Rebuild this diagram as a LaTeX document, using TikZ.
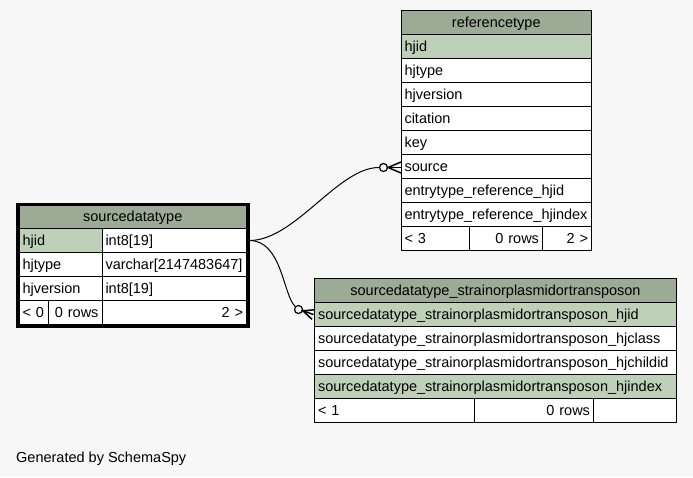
\documentclass[tikz,border=0pt]{standalone}
\usepackage{fontspec}
\setmainfont{Liberation Sans}
\usepackage{tikz}
\usetikzlibrary{fit}
\definecolor{pagebg}{HTML}{F7F7F7}
\definecolor{headbg}{HTML}{9BAB96}
\definecolor{keybg}{HTML}{BED1B8}
\hyphenpenalty=10000
\exhyphenpenalty=10000

\begin{document}
\begin{tikzpicture}[x=1pt,y=-1pt,
    cell/.style={draw, fill=white, line width=1pt, anchor=north west, outer sep=0pt,
      inner xsep=3.5pt, inner ysep=0pt, minimum height=24pt,
      text height=11.5pt, text depth=2.5pt, text width=#1, align=left,
      font=\fontsize{14.5}{17}\selectfont},
    head/.style={cell=#1, fill=headbg, align=center},
    key/.style={cell=#1, fill=keybg},
    count/.style={cell=#1, align=right},
    link/.style={line width=1pt},
    foot/.style={line width=1.5pt},
    ring/.style={circle, draw, fill=pagebg, line width=1.2pt, inner sep=0pt, minimum size=8pt}]
    \path[use as bounding box, fill=pagebg] (0,0) rectangle (693,477);

    % referencetype
    \node[head=183.5pt] (ref-title) at (401,10.5) {referencetype};
    \node[key=183.5pt] (ref-hjid) at (401,34.5) {hjid};
    \node[cell=183.5pt] (ref-hjtype) at (401,58.5) {hjtype};
    \node[cell=183.5pt] (ref-hjversion) at (401,82.5) {hjversion};
    \node[cell=183.5pt] (ref-citation) at (401,106.5) {citation};
    \node[cell=183.5pt] (ref-key) at (401,130.5) {key};
    \node[cell=183.5pt] (ref-source) at (401,154.5) {source};
    \node[cell=183.5pt] (ref-entryid) at (401,178.5) {entrytype\_reference\_hjid};
    \node[cell=183.5pt] (ref-entryindex) at (401,202.5) {entrytype\_reference\_hjindex};
    \node[cell=61.5pt] (ref-parents) at (401,226.5) {< 3};
    \node[count=66pt] (ref-rows) at (469.5,226.5) {0 rows};
    \node[count=42pt] (ref-children) at (542.5,226.5) {2 >};

    % sourcedatatype
    \node[head=220.5pt, minimum height=23pt] (sdt-title) at (19,205.5) {sourcedatatype};
    \node[key=76pt] (sdt-hjid) at (19,228.5) {hjid};
    \node[cell=137.5pt] (sdt-hjid-type) at (102,228.5) {int8[19]};
    \node[cell=76pt] (sdt-hjtype) at (19,252.5) {hjtype};
    \node[cell=137.5pt] (sdt-hjtype-type) at (102,252.5) {varchar[2147483647]};
    \node[cell=76pt] (sdt-hjversion) at (19,276.5) {hjversion};
    \node[cell=137.5pt] (sdt-hjversion-type) at (102,276.5) {int8[19]};
    \node[cell=22pt] (sdt-parents) at (19,300.5) {< 0};
    \node[count=47pt] (sdt-rows) at (48,300.5) {0 rows};
    \node[count=137.5pt] (sdt-children) at (102,300.5) {2 >};
    \node[draw, line width=3pt, inner sep=1.5pt, fit=(sdt-title)(sdt-children)] (sdt-frame) {};

    % sourcedatatype_strainorplasmidortransposon
    \node[head=355pt] (st-title) at (314.5,278.5) {sourcedatatype\_strainorplasmidortransposon};
    \node[key=355pt] (st-hjid) at (314.5,302.5) {sourcedatatype\_strainorplasmidortransposon\_hjid};
    \node[cell=355pt] (st-hjclass) at (314.5,326.5) {sourcedatatype\_strainorplasmidortransposon\_hjclass};
    \node[cell=355pt] (st-hjchildid) at (314.5,350.5) {sourcedatatype\_strainorplasmidortransposon\_hjchildid};
    \node[key=355pt] (st-hjindex) at (314.5,374.5) {sourcedatatype\_strainorplasmidortransposon\_hjindex};
    \node[cell=153pt] (st-parents) at (314.5,398.5) {< 1};
    \node[count=112pt] (st-rows) at (474.5,398.5) {0 rows};
    \node[count=76pt] (st-children) at (593.5,398.5) {};

    % relationships
    \node[ring] (o1) at (383.5,167.5) {};
    \node[ring] (o2) at (298.5,309.5) {};
    \draw[link] ([xshift=3pt]sdt-hjid-type.east) .. controls (295,240.5) and (338,167.5) .. (o1);
    \draw[link] ([xshift=3pt]sdt-hjid-type.east) .. controls (282,240.5) and (283,295) .. (o2);
    \draw[foot] ([yshift=4.5pt]ref-source.west) -- (o1.east) -- ([yshift=-6.5pt]ref-source.west);
    \draw[foot] (o1.east) -- ([yshift=-1pt]ref-source.west);
    \draw[foot] ([shift={(0.5,-4.8)}]st-hjid.west) -- (o2.-17) -- ([shift={(-2.5,4.8)}]st-hjid.west);
    \draw[foot] (o2.-17) -- ([shift={(-1,0)}]st-hjid.west);

    \node[anchor=base west, inner sep=0pt, font=\fontsize{14.5}{17}\selectfont] (credit) at (16,462.5) {Generated by SchemaSpy};
\end{tikzpicture}
\end{document}
